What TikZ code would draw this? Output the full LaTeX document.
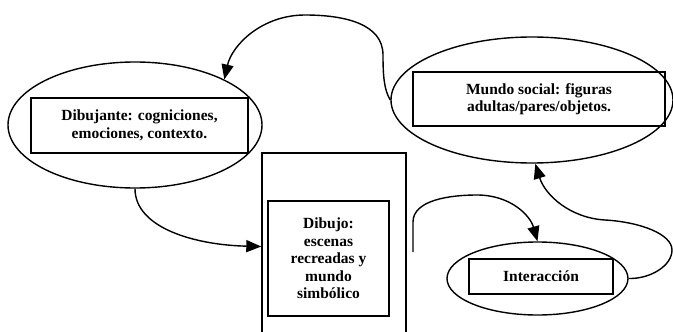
\documentclass[tikz,border=0pt]{standalone}
\usepackage{fontspec}
\setmainfont{Liberation Serif}
\usetikzlibrary{shapes.geometric,arrows.meta}
\tikzset{
  oval/.style={ellipse,draw,line width=1.4pt,inner sep=0pt},
  textbox/.style={rectangle,draw,line width=1.9pt,inner sep=0pt,align=center,
    font=\fontsize{15.5}{17.5}\selectfont\bfseries},
  outerbox/.style={rectangle,draw,line width=1.4pt,inner sep=0pt},
  conn/.style={line width=1.4pt},
  arr/.style={conn,-{Triangle[length=15pt,width=12pt]}}
}
\begin{document}
\begin{tikzpicture}[x=1pt,y=-1pt]
\useasboundingbox (0,0) rectangle (673,332);
\clip (0,0) rectangle (673,332);
% ellipses
\node[oval,minimum width=254pt,minimum height=126pt] (e1) at (135,125) {};
\node[oval,minimum width=282pt,minimum height=126pt] (e2) at (532,100) {};
\node[oval,minimum width=181pt,minimum height=73pt] (e3) at (537.5,278.5) {};
% tall rectangle
\node[outerbox,minimum width=144pt,minimum height=187pt] (tall) at (334,246.5) {};
% text boxes
\node[textbox,minimum width=217pt,minimum height=55pt] (t1) at (139.5,125.5)
  {Dibujante: cogniciones,\\emociones, contexto.};
\node[textbox,minimum width=252pt,minimum height=54pt] (t2) at (539,99)
  {Mundo social: figuras\\adultas/pares/objetos.};
\node[textbox,minimum width=121pt,minimum height=115pt] (t3) at (328.5,258.5)
  {Dibujo:\\escenas\\recreadas y\\mundo\\simbólico};
\node[textbox,minimum width=144pt,minimum height=35pt] (t4) at (541,276.5)
  {Interacción};
% connectors
\coordinate (s3) at (413,252);
\draw[arr] (e1.south) .. controls (135,228) and (195,245) .. (tall.west);
\draw[arr] (e2.west) .. controls (384,90) and (383,75) .. (383,55)
  .. controls (383,24) and (345,15) .. (305,15)
  .. controls (262,15) and (232,45) .. (e1.27);
\draw[arr] (s3) -- (413,222) .. controls (413,200) and (450,195) .. (477,195)
  .. controls (510,195) and (530,215) .. (e3.north);
\draw[arr] (e3.east) .. controls (650,279) and (672,266) .. (672,250)
  .. controls (672,234) and (640,222) .. (605,220)
  .. controls (570,218) and (545,195) .. (e2.-87);
\end{tikzpicture}
\end{document}
